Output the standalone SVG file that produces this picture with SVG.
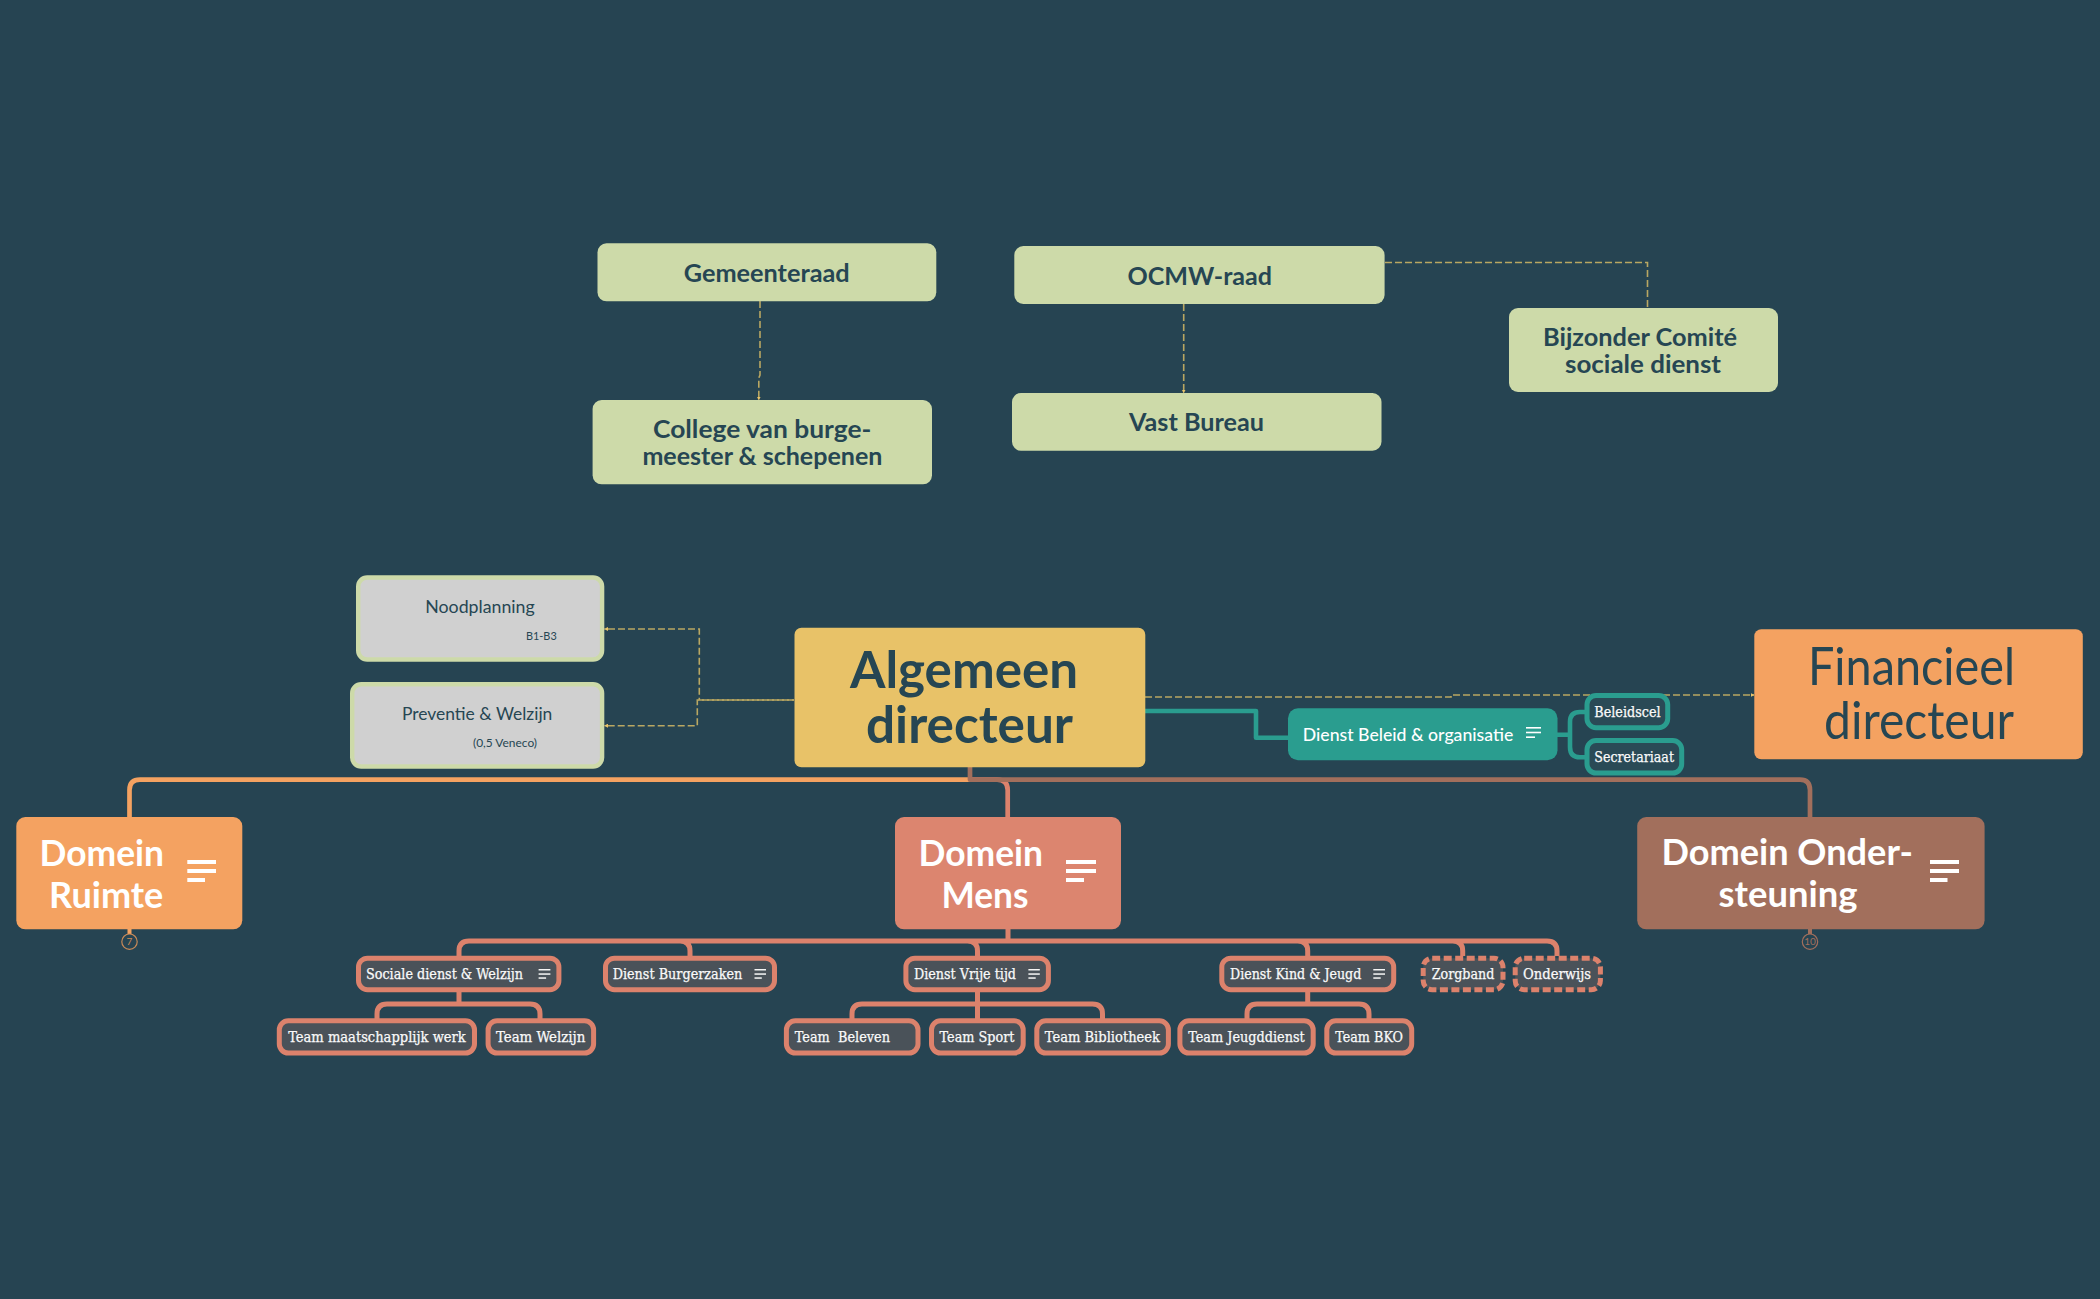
<svg xmlns="http://www.w3.org/2000/svg" width="2100" height="1299" viewBox="0 0 2100 1299">
<defs>
<marker id="ah" viewBox="0 0 4 4" refX="3.5" refY="2" markerWidth="4" markerHeight="4" markerUnits="userSpaceOnUse" orient="auto"><path d="M0 0L4 2L0 4z" fill="#e9c46a"/></marker>
</defs>
<style>
.sans{font-family:"Lato","Open Sans",sans-serif}
.ser{font-family:"DejaVu Serif Condensed","DejaVu Serif",serif;font-size:15px;fill:#fafafa;stroke:#fafafa;stroke-width:.25}
.g{fill:#cddaa9}
.gt{font-family:"Lato","Open Sans",sans-serif;font-weight:700;font-size:25.5px;fill:#264653}
.gray{fill:#d0d0d0;stroke:#cddaa9;stroke-width:4.4}
.gl{font-family:"Lato","Open Sans",sans-serif;font-size:18px;fill:#264653}
.gs{font-family:"Lato","Open Sans",sans-serif;font-size:11px;fill:#264653}
.dt{font-family:"Lato","Open Sans",sans-serif;font-weight:700;font-size:37px;fill:#fff}
.dash{fill:none;stroke:#b9a762;stroke-width:1.6;stroke-dasharray:7 3}
.c{fill:none;stroke-linejoin:round}
.sal{stroke:#dc826c;stroke-width:5}
.sn{fill:#4a5259;stroke:#dc826c;stroke-width:5}
.tn{fill:#2a4a56;stroke:#2a9d8f;stroke-width:5}
.sd{stroke-dasharray:8 3.5}
.ic{fill:#f5f5f5}
.w{fill:#fff}
</style>
<rect width="2100" height="1299" fill="#264452"/>

<g id="connectors">
<path class="dash" d="M760 301V375L758.8 378V400" marker-end="url(#ah)"/>
<path class="dash" d="M1183.7 304V393" marker-end="url(#ah)"/>
<path class="dash" d="M1385 262.5H1647.5V308"/>
<path class="dash" d="M794 700H699.3V629H604.5" marker-end="url(#ah)"/>
<path class="dash" stroke-dashoffset="5" d="M794 700H697.3V725.7H604.5" marker-end="url(#ah)"/>
<path class="dash" d="M1145 697H1451V695H1754" marker-end="url(#ah)"/>
<path class="c" stroke="#2a9d8f" stroke-width="4.6" d="M1145 711H1256V737.7H1289"/>
<path class="c" stroke="#2a9d8f" stroke-width="4.6" d="M1557 734.7H1570M1586 712H1580Q1570 712 1570 722V747Q1570 757.3 1580 757.3H1586"/>
<path class="c" stroke="#f4a261" stroke-width="4.7" d="M970 779.7H140Q129.5 779.7 129.5 790V818"/>
<path class="c" stroke="#dc826c" stroke-width="4.7" d="M970 779.7H997Q1007.7 779.7 1007.7 790V818"/>
<path class="c" stroke="#a26f5c" stroke-width="4.7" d="M970 767V779.7H1800Q1810 779.7 1810 790V818"/>
<path class="c sal" d="M1008 929V941M459 956V951Q459 941 469 941H1547Q1557 941 1557 951V956M680 941Q690 941 690 951V956M967.5 941Q977.5 941 977.5 951V956M1297.7 941Q1307.7 941 1307.7 951V956M1452.7 941Q1462.7 941 1462.7 951V956"/>
<path class="c sal" d="M459 992V1004M377 1019V1014Q377 1004 387 1004H530Q540 1004 540 1014V1019"/>
<path class="c sal" d="M977.5 992V1019M852 1019V1014Q852 1004 862 1004H1092.5Q1102.5 1004 1102.5 1014V1019"/>
<path class="c sal" d="M1307.7 992V1004M1247 1019V1014Q1247 1004 1257 1004H1359Q1369 1004 1369 1014V1019"/>
<path class="c" stroke="#f4a261" stroke-width="4" d="M129.5 929V934"/>
<path class="c" stroke="#a26f5c" stroke-width="4" d="M1810 929V934"/>
</g>

<g id="gemeenteraad"><rect class="g" x="597.5" y="243.3" width="338.8" height="58" rx="9"/><text class="gt" x="683.7" y="282" textLength="166" lengthAdjust="spacingAndGlyphs">Gemeenteraad</text></g>
<g id="college"><rect class="g" x="592.6" y="400" width="339.4" height="84.3" rx="9"/><text class="gt" x="653" y="437.5" textLength="218.4" lengthAdjust="spacingAndGlyphs">College van burge-</text><text class="gt" x="642.4" y="465" textLength="240" lengthAdjust="spacingAndGlyphs">meester &amp; schepenen</text></g>
<g id="ocmw"><rect class="g" x="1014.3" y="246" width="370.3" height="58" rx="9"/><text class="gt" x="1127.5" y="284.7" textLength="144.5" lengthAdjust="spacingAndGlyphs">OCMW-raad</text></g>
<g id="vast-bureau"><rect class="g" x="1012" y="393" width="369.5" height="57.7" rx="9"/><text class="gt" x="1129" y="431" textLength="135" lengthAdjust="spacingAndGlyphs">Vast Bureau</text></g>
<g id="bijzonder"><rect class="g" x="1509" y="308" width="269" height="84" rx="9"/><text class="gt" x="1543" y="345.5" textLength="194" lengthAdjust="spacingAndGlyphs">Bijzonder Comité</text><text class="gt" x="1565" y="372.8" textLength="156" lengthAdjust="spacingAndGlyphs">sociale dienst</text></g>

<g id="noodplanning"><rect class="gray" x="358.2" y="577.5" width="243.9" height="82" rx="9"/><text class="gl" x="425.3" y="613.3" textLength="109.4" lengthAdjust="spacingAndGlyphs">Noodplanning</text><text class="gs" x="526" y="640" textLength="30.7" lengthAdjust="spacingAndGlyphs">B1-B3</text></g>
<g id="preventie"><rect class="gray" x="352.2" y="684.2" width="249.9" height="82.3" rx="9"/><text class="gl" x="402" y="720.3" textLength="150.3" lengthAdjust="spacingAndGlyphs">Preventie &amp; Welzijn</text><text class="gs" x="473" y="747.3" textLength="64" lengthAdjust="spacingAndGlyphs">(0,5 Veneco)</text></g>

<g id="algemeen"><rect fill="#e8c268" x="794.5" y="627.7" width="350.8" height="139.6" rx="7"/><text class="sans" font-weight="700" font-size="52" fill="#264653" x="850" y="688.3" textLength="228" lengthAdjust="spacingAndGlyphs">Algemeen</text><text class="sans" font-weight="700" font-size="52" fill="#264653" x="866" y="743.3" textLength="207" lengthAdjust="spacingAndGlyphs">directeur</text></g>
<g id="financieel"><rect fill="#f4a261" x="1754.3" y="629.3" width="328.5" height="130" rx="7"/><text class="sans" font-size="52" fill="#264653" x="1808" y="685" textLength="207" lengthAdjust="spacingAndGlyphs">Financieel</text><text class="sans" font-size="52" fill="#264653" x="1824" y="739" textLength="190" lengthAdjust="spacingAndGlyphs">directeur</text></g>

<g id="dienst-beleid"><rect fill="#2a9d8f" x="1288" y="708.3" width="269.5" height="52" rx="10"/><text class="sans" font-weight="500" font-size="18" fill="#fff" x="1302.8" y="740.7" textLength="210.5" lengthAdjust="spacingAndGlyphs">Dienst Beleid &amp; organisatie</text><g class="w"><rect x="1526" y="727" width="15" height="1.6"/><rect x="1526" y="731.7" width="15" height="1.6"/><rect x="1526" y="736.4" width="9" height="1.6"/></g></g>
<g id="beleidscel"><rect class="tn" x="1587" y="695.6" width="80.7" height="32.1" rx="9"/><text class="ser" x="1594.3" y="717" textLength="66.3" lengthAdjust="spacingAndGlyphs">Beleidscel</text></g>
<g id="secretariaat"><rect class="tn" x="1587" y="740.6" width="94.7" height="32.4" rx="9"/><text class="ser" x="1594.3" y="762" textLength="79.7" lengthAdjust="spacingAndGlyphs">Secretariaat</text></g>

<g id="domein-ruimte"><rect fill="#f4a261" x="16.3" y="817" width="226" height="112.3" rx="9"/><text class="dt" x="39.5" y="866" textLength="124.5" lengthAdjust="spacingAndGlyphs">Domein</text><text class="dt" x="49" y="907.7" textLength="114.3" lengthAdjust="spacingAndGlyphs">Ruimte</text><g class="w"><rect x="187.3" y="860" width="28.7" height="4"/><rect x="187.3" y="869" width="28.7" height="4"/><rect x="187.3" y="878" width="17.7" height="4"/></g><circle cx="129.5" cy="941.7" r="7.7" fill="#264452" stroke="#c98a58" stroke-width="1.2"/><text class="sans" font-size="10" fill="#c98a58" x="129.5" y="945.2" text-anchor="middle">7</text></g>
<g id="domein-mens"><rect fill="#dc856f" x="895" y="817" width="226" height="112.3" rx="9"/><text class="dt" x="918.6" y="866" textLength="124.4" lengthAdjust="spacingAndGlyphs">Domein</text><text class="dt" x="941.4" y="907.7" textLength="87" lengthAdjust="spacingAndGlyphs">Mens</text><g class="w"><rect x="1066" y="860" width="30" height="4"/><rect x="1066" y="869" width="30" height="4"/><rect x="1066" y="878" width="18" height="4"/></g></g>
<g id="domein-ondersteuning"><rect fill="#a26f5c" x="1637.2" y="817" width="347.4" height="112.3" rx="9"/><text class="dt" x="1661.5" y="865.3" textLength="251.5" lengthAdjust="spacingAndGlyphs">Domein Onder-</text><text class="dt" x="1718.6" y="907" textLength="139" lengthAdjust="spacingAndGlyphs">steuning</text><g class="w"><rect x="1930" y="860" width="29" height="4"/><rect x="1930" y="869" width="29" height="4"/><rect x="1930" y="878" width="17.5" height="4"/></g><circle cx="1810" cy="941.7" r="7.7" fill="#264452" stroke="#a26f5c" stroke-width="1.2"/><text class="sans" font-size="10" fill="#a26f5c" x="1810" y="945.2" text-anchor="middle">10</text></g>

<g id="sociale-dienst"><rect class="sn" x="358.5" y="958.2" width="200.4" height="31.5" rx="9"/><text class="ser" x="366" y="979" textLength="157" lengthAdjust="spacingAndGlyphs">Sociale dienst &amp; Welzijn</text><g class="ic"><rect x="538.6" y="969" width="11.8" height="1.5"/><rect x="538.6" y="973.3" width="11.8" height="1.5"/><rect x="538.6" y="977.3" width="7.5" height="1.5"/></g></g>
<g id="dienst-burgerzaken"><rect class="sn" x="605.5" y="958.2" width="169" height="31.5" rx="9"/><text class="ser" x="612.7" y="979" textLength="129.6" lengthAdjust="spacingAndGlyphs">Dienst Burgerzaken</text><g class="ic"><rect x="754.5" y="969" width="11.5" height="1.5"/><rect x="754.5" y="973.3" width="11.5" height="1.5"/><rect x="754.5" y="977.3" width="7.3" height="1.5"/></g></g>
<g id="dienst-vrije-tijd"><rect class="sn" x="905.9" y="958.2" width="142.5" height="31.5" rx="9"/><text class="ser" x="914" y="979" textLength="102" lengthAdjust="spacingAndGlyphs">Dienst Vrije tijd</text><g class="ic"><rect x="1028.4" y="969" width="11.4" height="1.5"/><rect x="1028.4" y="973.3" width="11.4" height="1.5"/><rect x="1028.4" y="977.3" width="7.3" height="1.5"/></g></g>
<g id="dienst-kind-jeugd"><rect class="sn" x="1221.8" y="958.2" width="171.9" height="31.5" rx="9"/><text class="ser" x="1230" y="979" textLength="131.3" lengthAdjust="spacingAndGlyphs">Dienst Kind &amp; Jeugd</text><g class="ic"><rect x="1373.3" y="969" width="11.7" height="1.5"/><rect x="1373.3" y="973.3" width="11.7" height="1.5"/><rect x="1373.3" y="977.3" width="7.4" height="1.5"/></g></g>
<g id="zorgband"><rect class="sn sd" x="1423.2" y="958.2" width="79.8" height="31.5" rx="9"/><text class="ser" x="1431.7" y="979" textLength="62.6" lengthAdjust="spacingAndGlyphs">Zorgband</text></g>
<g id="onderwijs"><rect class="sn sd" x="1515.2" y="958.2" width="85.2" height="31.5" rx="9"/><text class="ser" x="1523" y="979" textLength="68" lengthAdjust="spacingAndGlyphs">Onderwijs</text></g>

<g id="team-maatschappelijk"><rect class="sn" x="279.3" y="1020.8" width="195.2" height="32.2" rx="9"/><text class="ser" x="288.2" y="1042.2" textLength="177.6" lengthAdjust="spacingAndGlyphs">Team maatschapplijk werk</text></g>
<g id="team-welzijn"><rect class="sn" x="488.1" y="1020.8" width="105.5" height="32.2" rx="9"/><text class="ser" x="496" y="1042.2" textLength="89.3" lengthAdjust="spacingAndGlyphs">Team Welzijn</text></g>
<g id="team-beleven"><rect class="sn" x="786.4" y="1020.8" width="131.6" height="32.2" rx="9"/><text class="ser" x="794.8" y="1042.2" textLength="95.2" lengthAdjust="spacingAndGlyphs" xml:space="preserve">Team  Beleven</text></g>
<g id="team-sport"><rect class="sn" x="931.5" y="1020.8" width="91.7" height="32.2" rx="9"/><text class="ser" x="939.6" y="1042.2" textLength="74.9" lengthAdjust="spacingAndGlyphs">Team Sport</text></g>
<g id="team-bibliotheek"><rect class="sn" x="1036.8" y="1020.8" width="131.6" height="32.2" rx="9"/><text class="ser" x="1044.8" y="1042.2" textLength="115.2" lengthAdjust="spacingAndGlyphs">Team Bibliotheek</text></g>
<g id="team-jeugddienst"><rect class="sn" x="1179.9" y="1020.8" width="133.3" height="32.2" rx="9"/><text class="ser" x="1188.3" y="1042.2" textLength="116.4" lengthAdjust="spacingAndGlyphs">Team Jeugddienst</text></g>
<g id="team-bko"><rect class="sn" x="1326.8" y="1020.8" width="84.9" height="32.2" rx="9"/><text class="ser" x="1335.3" y="1042.2" textLength="67.7" lengthAdjust="spacingAndGlyphs">Team BKO</text></g>
</svg>
